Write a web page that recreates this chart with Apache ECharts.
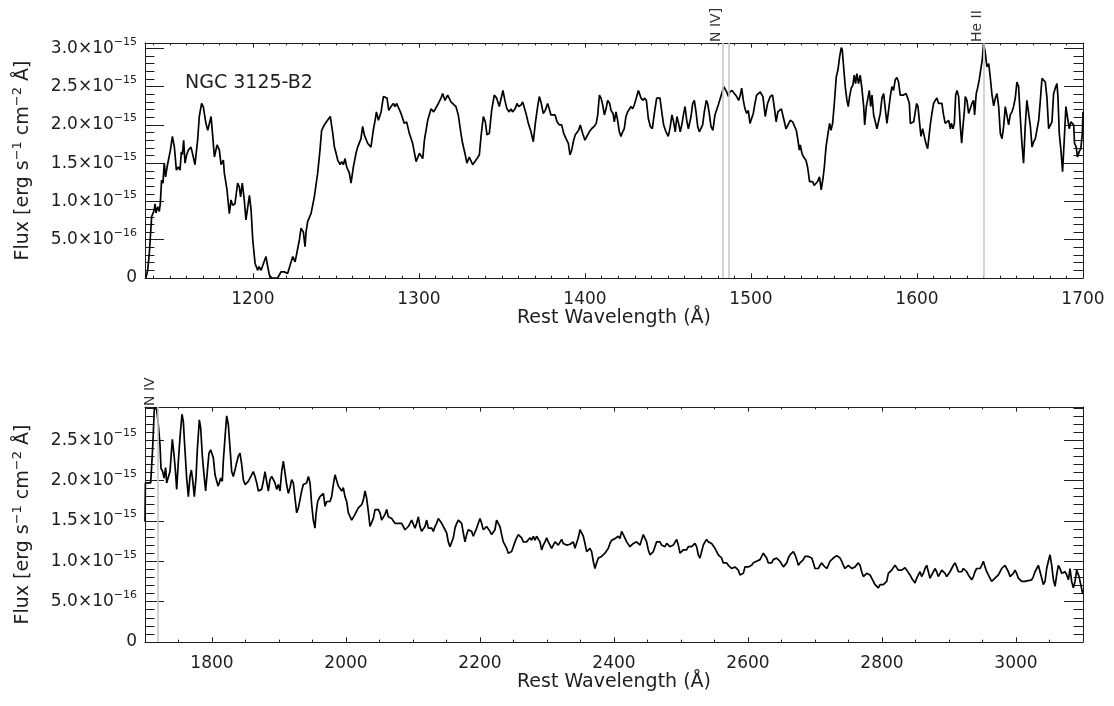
<!DOCTYPE html>
<html>
<head>
<meta charset="utf-8">
<script src="https://cdn.jsdelivr.net/npm/echarts@6/dist/echarts.min.js"></script>
<style>
  html, body { margin: 0; padding: 0; background: #ffffff; }
  #chart { width: 1114px; height: 706px; }
</style>
</head>
<body>
<div id="chart"></div>
<script>
// Rest-frame UV spectrum, flux in units of 1e-15 erg s^-1 cm^-2 Å^-1
const objectName = 'NGC 3125-B2';

// [wavelength (Å), flux] — short-wavelength segment
const spectrumShort = [
  [1135.5,0.00],[1136.6,0.10],[1137.6,0.32],[1139.0,0.80],[1140.6,0.89],[1141.0,0.97],[1141.6,0.85],[1142.6,0.93],
  [1143.6,0.87],[1144.2,0.97],[1145.0,1.28],[1145.8,1.24],[1146.6,1.50],[1147.4,1.32],[1148.3,1.45],[1149.1,1.43],
  [1150.3,1.67],[1151.5,1.85],[1152.7,1.71],[1153.9,1.41],[1155.1,1.45],[1156.1,1.41],[1156.9,1.65],[1157.5,1.61],
  [1158.3,1.80],[1159.1,1.50],[1160.1,1.61],[1161.1,1.67],[1162.7,1.71],[1164.1,1.58],[1165.1,1.48],[1166.7,1.80],
  [1167.7,2.11],[1169.1,2.28],[1170.1,2.24],[1171.7,2.02],[1172.8,1.93],[1174.8,2.11],[1175.8,1.85],[1176.8,1.58],
  [1178.4,1.74],[1179.8,1.67],[1180.8,1.48],[1182.2,1.54],[1182.8,1.37],[1184.4,1.15],[1185.2,0.97],[1185.8,0.84],
  [1186.8,1.02],[1187.8,0.95],[1189.2,0.97],[1190.8,1.24],[1191.8,1.19],[1192.6,1.06],[1193.6,1.24],[1194.8,1.02],
  [1195.8,0.76],[1196.8,0.74],[1197.9,1.08],[1198.9,0.89],[1199.9,0.50],[1201.3,0.19],[1202.9,0.10],[1203.7,0.15],
  [1204.9,0.10],[1206.5,0.20],[1207.9,0.28],[1208.9,0.15],[1209.9,0.04],[1211.3,0.00],[1214.9,0.00],[1216.9,0.08],
  [1218.9,0.08],[1220.9,0.06],[1224.0,0.28],[1225.4,0.21],[1226.4,0.32],[1228.0,0.50],[1229.0,0.65],[1230.4,0.60],
  [1231.4,0.41],[1232.0,0.60],[1233.0,0.74],[1235.0,0.84],[1237.0,1.06],[1239.0,1.37],[1240.4,1.67],[1241.4,1.93],
  [1243.0,2.00],[1244.2,1.98],[1245.6,2.08],[1246.6,2.11],[1248.1,1.89],[1249.1,1.71],[1250.1,1.63],[1251.1,1.54],
  [1252.5,1.48],[1253.5,1.52],[1254.5,1.48],[1255.5,1.56],[1256.5,1.45],[1258.1,1.37],[1259.1,1.24],[1260.5,1.45],
  [1262.1,1.63],[1263.1,1.71],[1265.1,1.82],[1266.1,1.98],[1267.1,1.87],[1269.1,1.76],[1271.1,1.71],[1272.5,1.93],
  [1273.6,2.06],[1274.4,2.17],[1275.6,2.06],[1277.2,2.17],[1278.6,2.37],[1279.6,2.39],[1280.8,2.35],[1281.8,2.19],
  [1283.2,2.24],[1284.6,2.28],[1285.6,2.24],[1286.6,2.28],[1287.6,2.26],[1289.2,2.15],[1291.2,2.02],[1292.6,2.04],
  [1294.2,1.89],[1296.2,1.76],[1298.3,1.52],[1300.3,1.63],[1302.3,1.56],[1303.3,1.80],[1305.3,2.06],[1307.3,2.21],
  [1308.9,2.17],[1311.7,2.28],[1313.3,2.35],[1314.3,2.41],[1315.7,2.32],[1317.3,2.39],[1319.3,2.30],[1322.3,2.24],
  [1323.7,2.13],[1325.3,1.89],[1326.3,1.76],[1327.7,1.63],[1328.9,1.50],[1330.3,1.58],[1331.3,1.56],[1332.4,1.48],
  [1333.4,1.48],[1335.0,1.56],[1336.4,1.61],[1337.4,1.85],[1338.8,2.11],[1340.0,2.04],[1341.0,1.87],[1342.4,1.89],
  [1343.8,2.19],[1345.4,2.39],[1346.8,2.35],[1348.4,2.24],[1349.4,2.22],[1350.6,2.45],[1351.8,2.32],[1353.0,2.21],
  [1354.4,2.17],[1355.4,2.21],[1356.4,2.17],[1357.9,2.21],[1359.1,2.28],[1360.1,2.24],[1361.5,2.26],[1362.5,2.30],
  [1363.5,2.28],[1364.5,2.15],[1365.9,2.02],[1367.5,1.91],[1368.9,1.78],[1370.1,2.02],[1371.5,2.24],[1372.5,2.37],
  [1373.5,2.30],[1374.9,2.15],[1376.1,2.19],[1377.5,2.28],[1378.5,2.21],[1379.5,2.13],[1380.5,2.15],[1382.0,2.13],
  [1383.2,2.04],[1384.6,2.00],[1386.0,2.00],[1387.2,1.89],[1388.6,1.82],[1390.0,1.76],[1391.0,1.61],[1392.0,1.67],
  [1393.2,1.80],[1394.2,1.87],[1395.2,1.85],[1396.2,1.93],[1397.2,2.00],[1398.6,1.89],[1400.0,1.80],[1401.0,1.78],
  [1402.6,1.91],[1404.0,1.95],[1405.6,1.98],[1406.8,2.02],[1407.7,2.13],[1408.7,2.39],[1409.7,2.35],[1410.7,2.26],
  [1411.7,2.13],[1412.7,2.21],[1413.7,2.32],[1414.9,2.28],[1415.7,2.19],[1416.9,2.15],[1417.7,2.04],[1418.7,2.17],
  [1419.7,2.06],[1420.7,1.91],[1421.7,1.85],[1422.7,1.91],[1423.7,1.95],[1424.7,2.11],[1425.7,2.17],[1426.9,2.21],
  [1427.7,2.24],[1428.7,2.21],[1429.7,2.26],[1430.9,2.35],[1432.2,2.45],[1433.0,2.45],[1433.8,2.35],[1435.0,2.32],
  [1435.8,2.35],[1437.0,2.32],[1438.2,2.08],[1439.4,1.98],[1440.6,1.95],[1441.8,2.15],[1443.2,2.35],[1444.2,2.37],
  [1445.2,2.35],[1446.4,2.15],[1447.4,2.00],[1448.8,1.91],[1450.2,1.85],[1451.4,1.98],[1452.4,2.13],[1453.4,2.04],
  [1454.4,1.91],[1455.4,2.11],[1456.4,2.02],[1457.4,1.91],[1458.5,2.02],[1459.3,2.13],[1460.3,2.24],[1461.3,2.06],
  [1462.3,1.95],[1463.1,1.93],[1463.9,2.11],[1464.9,2.28],[1465.9,2.32],[1466.9,2.17],[1467.9,1.98],[1468.9,1.91],
  [1469.9,1.91],[1470.9,2.00],[1471.9,2.17],[1473.1,2.32],[1473.9,2.28],[1474.9,2.15],[1475.9,1.98],[1477.1,1.93],
  [1478.3,2.13],[1479.3,2.13],[1480.3,2.26],[1481.3,2.28],[1482.4,2.41],[1483.6,2.50],[1484.4,2.52],[1485.4,2.43],
  [1486.4,2.37],[1487.2,2.43],[1488.6,2.45],[1490.0,2.41],[1491.4,2.37],[1492.6,2.32],[1493.6,2.39],[1494.4,2.48],
  [1495.4,2.32],[1496.4,2.21],[1497.4,2.15],[1498.4,2.19],[1499.4,2.02],[1500.4,2.00],[1501.4,2.15],[1502.4,2.28],
  [1503.4,2.39],[1504.4,2.41],[1505.6,2.43],[1507.2,2.37],[1508.6,2.11],[1510.0,2.28],[1511.6,2.37],[1513.0,2.39],
  [1514.0,2.24],[1515.2,2.04],[1516.2,2.17],[1517.2,2.19],[1518.3,2.21],[1519.7,2.08],[1521.1,1.95],[1522.3,2.00],
  [1523.7,2.06],[1525.1,2.04],[1526.3,2.04],[1527.3,1.93],[1528.3,1.80],[1529.1,1.67],[1529.7,1.74],[1530.7,1.63],
  [1531.7,1.58],[1533.1,1.54],[1534.1,1.45],[1535.3,1.26],[1536.1,1.24],[1537.1,1.26],[1538.1,1.21],[1539.1,1.19],
  [1540.1,1.26],[1541.3,1.32],[1542.3,1.15],[1543.4,1.30],[1544.2,1.45],[1545.2,1.71],[1546.4,1.89],[1547.4,2.02],
  [1548.2,1.93],[1549.2,2.02],[1550.2,2.28],[1551.4,2.63],[1552.4,2.72],[1553.4,2.89],[1554.4,3.01],[1555.0,2.98],
  [1555.8,2.76],[1556.8,2.50],[1557.8,2.32],[1558.6,2.24],[1559.4,2.37],[1560.4,2.48],[1561.4,2.52],[1562.2,2.65],
  [1563.0,2.54],[1563.8,2.67],[1564.8,2.54],[1565.8,2.65],[1566.8,2.48],[1567.9,2.24],[1568.5,2.00],[1569.5,2.24],
  [1570.5,2.24],[1571.3,2.45],[1572.1,2.24],[1572.9,2.39],[1573.9,2.13],[1574.9,2.04],[1575.9,1.95],[1576.9,1.95],
  [1577.9,2.15],[1578.9,2.35],[1579.9,2.41],[1580.9,2.21],[1581.9,2.02],[1582.9,2.19],[1583.9,2.37],[1584.9,2.50],
  [1585.9,2.45],[1586.9,2.59],[1587.9,2.62],[1588.9,2.56],[1589.9,2.39],[1590.9,2.37],[1591.9,2.39],[1593.4,2.41],
  [1594.4,2.35],[1595.4,2.28],[1596.0,2.02],[1597.0,2.04],[1598.0,2.04],[1599.0,2.02],[1599.8,2.28],[1600.6,2.24],
  [1601.6,2.02],[1602.4,1.85],[1603.4,1.95],[1604.4,1.85],[1605.6,1.74],[1606.4,1.69],[1607.0,1.80],[1608.0,2.00],
  [1609.0,2.15],[1610.0,2.28],[1611.0,2.32],[1612.0,2.35],[1613.0,2.28],[1614.0,2.30],[1615.0,2.28],[1616.0,2.13],
  [1617.0,2.02],[1618.1,2.00],[1619.1,2.06],[1620.1,1.95],[1620.7,2.02],[1621.7,1.95],[1622.5,2.02],[1623.3,2.39],
  [1624.1,2.45],[1625.1,2.37],[1626.1,1.98],[1626.9,1.76],[1627.7,1.98],[1628.5,2.17],[1629.1,2.37],[1630.1,2.32],
  [1631.1,2.15],[1632.1,2.17],[1633.1,2.28],[1634.1,2.32],[1634.7,2.13],[1635.7,2.41],[1636.5,2.48],[1637.5,2.59],
  [1638.5,2.59],[1639.3,2.85],[1640.1,3.06],[1641.1,2.95],[1642.1,2.76],[1643.2,2.80],[1644.2,2.61],[1645.2,2.39],
  [1646.2,2.25],[1647.2,2.35],[1648.2,2.41],[1649.2,2.24],[1650.2,1.89],[1651.2,1.82],[1652.2,1.98],[1653.2,2.24],
  [1654.2,2.22],[1655.2,2.00],[1656.2,2.13],[1657.2,2.17],[1658.2,2.24],[1659.2,2.35],[1660.2,2.56],[1661.2,2.50],
  [1662.2,2.11],[1663.2,1.76],[1664.2,1.50],[1665.2,1.98],[1666.2,2.32],[1667.2,2.32],[1668.3,1.98],[1669.3,1.71],
  [1670.3,1.78],[1671.3,1.82],[1672.3,1.82],[1673.3,2.06],[1674.3,2.32],[1675.3,2.61],[1676.3,2.59],[1677.3,2.56],
  [1678.3,2.35],[1679.3,1.95],[1680.3,1.97],[1681.3,2.04],[1682.3,2.41],[1683.3,2.48],[1684.3,2.54],[1684.9,2.37],
  [1685.7,1.89],[1686.7,1.67],[1687.7,1.39],[1688.7,1.80],[1689.7,2.24],[1690.7,2.26],[1691.7,1.95],[1692.7,2.04],
  [1693.7,2.04],[1694.4,2.00],[1694.9,1.76],[1695.9,1.71],[1696.7,1.58],[1697.7,1.65],[1698.7,1.69],[1699.6,1.89],
  [1700.0,2.17]
];

// [wavelength (Å), flux] — long-wavelength segment
const spectrumLong = [
  [1700.0,1.49],[1700.6,1.97],[1703.0,1.97],[1708.5,1.97],[1711.4,2.40],[1714.0,2.90],[1715.5,2.89],[1717.4,2.88],
  [1719.9,2.69],[1722.4,2.44],[1723.9,2.15],[1726.4,2.11],[1728.4,2.03],[1730.8,2.16],[1732.3,1.97],[1734.8,1.97],
  [1737.3,2.11],[1740.8,2.51],[1743.3,2.32],[1745.3,2.13],[1747.3,1.89],[1749.8,2.24],[1752.2,2.53],[1755.2,2.82],
  [1757.2,2.73],[1759.2,2.44],[1762.2,2.03],[1764.7,1.80],[1767.2,2.05],[1769.2,2.13],[1771.1,2.01],[1773.6,1.80],
  [1776.1,2.03],[1778.1,2.38],[1781.1,2.75],[1783.1,2.65],[1785.6,2.30],[1788.1,2.07],[1790.5,1.87],[1793.0,2.11],
  [1795.5,2.34],[1798.0,2.38],[1800.0,2.36],[1802.0,2.28],[1804.5,2.07],[1807.0,2.05],[1809.0,1.93],[1810.9,1.97],
  [1812.9,2.03],[1815.4,1.99],[1816.9,2.24],[1819.4,2.53],[1821.9,2.80],[1824.4,2.69],[1826.9,2.40],[1829.4,2.11],
  [1831.8,2.05],[1834.3,2.13],[1836.8,2.22],[1839.3,2.30],[1841.8,2.34],[1844.3,2.20],[1846.8,2.01],[1849.3,1.95],
  [1851.7,1.97],[1854.2,1.99],[1856.7,1.97],[1859.2,2.07],[1861.7,2.11],[1864.2,2.05],[1866.7,1.97],[1869.2,1.87],
  [1871.6,1.89],[1874.1,1.89],[1876.6,1.99],[1879.1,2.11],[1881.6,1.99],[1884.1,1.87],[1886.6,2.01],[1889.1,2.05],
  [1891.5,2.03],[1894.0,1.97],[1896.5,1.89],[1899.0,1.95],[1901.5,1.87],[1904.0,2.11],[1906.5,2.24],[1909.0,2.09],
  [1911.4,1.95],[1913.9,1.84],[1916.4,1.91],[1918.9,2.01],[1921.4,1.97],[1923.9,1.78],[1926.4,1.60],[1928.9,1.66],
  [1931.3,1.76],[1933.8,1.87],[1936.3,1.95],[1938.8,1.97],[1941.3,1.97],[1943.8,2.05],[1946.3,1.97],[1948.8,1.70],
  [1951.2,1.51],[1953.7,1.41],[1955.2,1.58],[1957.7,1.74],[1961.2,1.80],[1963.7,1.82],[1966.2,1.84],[1968.7,1.68],
  [1971.1,1.74],[1973.6,1.72],[1976.1,1.74],[1978.6,1.80],[1981.1,1.95],[1983.6,2.07],[1986.1,2.05],[1988.6,1.93],
  [1991.0,1.91],[1993.5,1.87],[1996.0,1.91],[1998.5,1.80],[2001.0,1.74],[2003.5,1.60],[2006.0,1.62],[2008.5,1.51],
  [2010.9,1.53],[2013.4,1.58],[2015.9,1.62],[2018.4,1.66],[2020.9,1.64],[2023.4,1.70],[2025.9,1.76],[2028.4,1.87],
  [2030.8,1.78],[2033.3,1.62],[2035.8,1.43],[2038.3,1.41],[2040.8,1.53],[2043.3,1.64],[2045.8,1.64],[2048.3,1.64],
  [2050.7,1.60],[2053.2,1.51],[2055.7,1.49],[2058.2,1.58],[2060.7,1.64],[2063.2,1.55],[2065.7,1.53],[2068.2,1.53],
  [2070.6,1.51],[2073.1,1.47],[2075.6,1.45],[2078.1,1.47],[2080.6,1.47],[2083.1,1.47],[2085.6,1.49],[2088.1,1.39],
  [2090.5,1.37],[2093.0,1.43],[2095.5,1.41],[2098.0,1.51],[2100.5,1.53],[2103.0,1.41],[2105.5,1.47],[2108.0,1.55],
  [2110.4,1.43],[2112.9,1.37],[2115.4,1.37],[2117.9,1.43],[2120.4,1.51],[2122.9,1.41],[2125.4,1.43],[2127.9,1.41],
  [2130.3,1.37],[2132.8,1.43],[2135.3,1.47],[2137.8,1.53],[2140.3,1.51],[2142.8,1.47],[2145.3,1.47],[2147.8,1.39],
  [2150.2,1.35],[2152.7,1.24],[2155.2,1.18],[2157.7,1.16],[2160.2,1.29],[2162.7,1.41],[2165.2,1.47],[2167.7,1.51],
  [2170.1,1.51],[2172.6,1.47],[2175.1,1.35],[2177.6,1.24],[2180.1,1.33],[2182.5,1.39],[2185.0,1.41],[2187.5,1.37],
  [2190.0,1.31],[2192.5,1.31],[2195.0,1.41],[2197.5,1.47],[2200.0,1.53],[2202.4,1.47],[2204.9,1.39],[2207.4,1.41],
  [2209.9,1.43],[2212.4,1.41],[2214.9,1.37],[2217.4,1.33],[2219.9,1.31],[2222.3,1.39],[2224.8,1.51],[2227.3,1.53],
  [2229.8,1.43],[2232.3,1.33],[2234.8,1.24],[2237.3,1.22],[2239.8,1.16],[2242.2,1.10],[2244.7,1.09],[2247.2,1.12],
  [2249.7,1.18],[2252.2,1.24],[2254.7,1.29],[2257.2,1.33],[2259.7,1.31],[2262.1,1.29],[2264.6,1.24],[2267.1,1.26],
  [2269.6,1.24],[2272.1,1.22],[2274.6,1.29],[2277.1,1.26],[2279.6,1.31],[2282.0,1.26],[2284.5,1.31],[2287.0,1.33],
  [2289.5,1.24],[2292.0,1.14],[2294.5,1.20],[2297.0,1.24],[2299.5,1.29],[2301.9,1.24],[2304.4,1.22],[2306.9,1.16],
  [2309.4,1.20],[2311.9,1.24],[2314.4,1.22],[2316.9,1.20],[2319.4,1.20],[2321.8,1.27],[2324.3,1.22],[2326.8,1.22],
  [2329.3,1.20],[2331.8,1.21],[2334.3,1.21],[2336.8,1.22],[2339.3,1.24],[2341.7,1.16],[2344.2,1.18],[2346.7,1.29],
  [2349.2,1.39],[2351.7,1.37],[2354.2,1.31],[2356.7,1.22],[2359.2,1.12],[2361.6,1.10],[2364.1,1.16],[2366.6,1.12],
  [2369.1,1.00],[2371.6,0.91],[2374.1,0.98],[2376.6,1.04],[2379.1,1.02],[2381.5,1.06],[2384.0,1.08],[2386.5,1.10],
  [2389.0,1.12],[2391.5,1.16],[2394.0,1.22],[2396.5,1.26],[2399.0,1.26],[2401.4,1.28],[2403.9,1.28],[2406.4,1.31],
  [2408.9,1.28],[2411.4,1.37],[2413.9,1.33],[2416.4,1.33],[2418.9,1.24],[2421.3,1.22],[2423.8,1.18],[2426.3,1.20],
  [2428.8,1.22],[2431.3,1.22],[2433.8,1.24],[2436.3,1.26],[2438.8,1.20],[2441.2,1.22],[2443.7,1.33],[2446.2,1.35],
  [2448.7,1.24],[2451.2,1.14],[2453.7,1.08],[2456.2,1.10],[2458.7,1.12],[2461.1,1.18],[2463.6,1.24],[2466.1,1.26],
  [2468.6,1.24],[2471.1,1.20],[2473.6,1.22],[2476.1,1.18],[2478.6,1.22],[2481.0,1.20],[2483.5,1.18],[2486.0,1.20],
  [2488.5,1.20],[2491.0,1.22],[2493.5,1.27],[2496.0,1.20],[2498.5,1.10],[2500.9,1.12],[2503.4,1.14],[2505.9,1.16],
  [2508.4,1.14],[2510.9,1.18],[2513.4,1.16],[2515.9,1.18],[2518.4,1.20],[2520.8,1.22],[2523.3,1.18],[2525.8,1.08],
  [2528.3,1.04],[2530.8,1.12],[2533.3,1.20],[2535.8,1.24],[2538.3,1.27],[2540.7,1.24],[2543.2,1.22],[2545.7,1.22],
  [2548.2,1.22],[2550.7,1.16],[2553.2,1.12],[2555.7,1.08],[2558.2,1.08],[2560.6,1.04],[2563.1,0.98],[2565.6,1.00],
  [2568.1,0.98],[2570.6,0.95],[2573.1,0.93],[2575.6,0.91],[2578.1,0.91],[2580.5,0.93],[2583.0,0.95],[2585.5,0.89],
  [2588.0,0.83],[2590.5,0.81],[2593.0,0.85],[2595.5,0.93],[2598.0,0.95],[2600.4,0.93],[2602.9,0.93],[2605.4,0.95],
  [2607.9,0.98],[2610.4,1.00],[2612.9,1.00],[2615.4,1.00],[2617.9,1.02],[2620.3,1.04],[2622.8,1.10],[2625.3,1.12],
  [2627.8,1.04],[2630.3,0.98],[2632.8,1.00],[2635.3,0.98],[2637.8,1.02],[2640.2,1.02],[2642.7,1.04],[2645.2,1.04],
  [2647.7,1.00],[2650.3,1.00],[2652.8,0.93],[2655.3,0.93],[2657.8,0.98],[2660.2,1.04],[2662.7,1.08],[2665.2,1.10],
  [2667.7,1.12],[2670.2,1.08],[2672.7,1.02],[2675.2,0.95],[2677.7,0.98],[2680.1,1.00],[2682.6,1.02],[2685.1,1.06],
  [2687.6,1.08],[2690.1,1.06],[2692.6,1.06],[2695.1,1.04],[2697.6,0.98],[2700.0,0.91],[2702.5,0.93],[2705.0,0.91],
  [2707.5,0.95],[2710.0,0.98],[2712.5,0.95],[2715.0,0.93],[2717.5,0.91],[2719.9,0.95],[2722.4,1.00],[2724.9,1.02],
  [2727.4,1.04],[2729.9,1.05],[2732.4,1.07],[2734.9,1.08],[2737.4,1.04],[2739.8,1.00],[2742.3,0.95],[2744.8,0.91],
  [2747.3,0.93],[2749.8,0.95],[2752.3,0.93],[2754.8,0.91],[2757.3,0.89],[2759.7,0.93],[2762.2,0.95],[2764.7,0.98],
  [2767.2,0.95],[2769.7,0.87],[2772.2,0.81],[2774.7,0.83],[2777.2,0.85],[2779.6,0.87],[2782.1,0.83],[2784.6,0.79],
  [2787.1,0.75],[2789.6,0.71],[2792.1,0.69],[2794.6,0.67],[2797.1,0.71],[2799.5,0.73],[2802.0,0.71],[2804.5,0.73],
  [2807.0,0.75],[2809.5,0.85],[2812.0,0.83],[2814.5,0.89],[2817.0,0.91],[2819.4,0.95],[2821.9,0.93],[2824.4,0.89],
  [2826.9,0.91],[2829.4,0.89],[2831.9,0.91],[2834.4,0.92],[2836.9,0.89],[2839.3,0.87],[2841.8,0.83],[2844.3,0.79],
  [2846.8,0.77],[2849.3,0.73],[2851.8,0.79],[2854.3,0.83],[2856.8,0.87],[2859.2,0.81],[2861.7,0.85],[2864.2,0.91],
  [2866.7,0.95],[2869.2,0.87],[2871.7,0.79],[2874.2,0.81],[2876.7,0.87],[2879.1,0.91],[2881.6,0.87],[2884.1,0.81],
  [2886.6,0.83],[2889.1,0.89],[2891.6,0.91],[2894.1,0.85],[2896.6,0.81],[2899.0,0.83],[2901.5,0.87],[2904.0,0.91],
  [2906.5,0.95],[2909.0,0.98],[2911.5,0.93],[2914.0,0.87],[2916.5,0.89],[2918.9,0.87],[2921.4,0.91],[2923.9,0.89],
  [2926.4,0.87],[2928.9,0.83],[2931.4,0.81],[2933.9,0.77],[2936.4,0.81],[2938.8,0.87],[2941.3,0.91],[2943.8,0.93],
  [2946.3,0.91],[2948.8,0.95],[2951.3,1.00],[2953.8,0.93],[2956.3,0.87],[2958.7,0.83],[2961.2,0.79],[2963.7,0.75],
  [2966.2,0.77],[2968.7,0.79],[2971.2,0.81],[2973.7,0.83],[2976.2,0.87],[2978.6,0.91],[2981.1,0.93],[2983.6,0.95],
  [2986.1,0.93],[2988.6,0.87],[2991.1,0.81],[2993.6,0.79],[2996.1,0.85],[2998.5,0.89],[3001.0,0.85],[3003.5,0.79],
  [3006.0,0.77],[3008.5,0.75],[3011.0,0.74],[3013.5,0.75],[3016.0,0.77],[3018.4,0.76],[3020.9,0.75],[3023.4,0.77],
  [3025.9,0.81],[3028.4,0.87],[3030.9,0.91],[3033.4,0.95],[3035.9,0.87],[3038.4,0.79],[3040.8,0.71],[3043.3,0.75],
  [3045.8,0.91],[3048.3,1.00],[3050.8,1.08],[3053.3,0.95],[3055.8,0.77],[3058.3,0.69],[3060.7,0.83],[3063.2,0.95],
  [3065.7,0.91],[3068.2,0.85],[3070.7,0.83],[3073.2,0.87],[3075.7,0.83],[3078.2,0.77],[3080.6,0.91],[3083.1,0.75],
  [3085.6,0.67],[3088.1,0.75],[3090.6,0.89],[3092.1,0.91],[3094.1,0.81],[3096.7,0.71],[3099.5,0.60]
];

// Panel ranges and tick spacing
const waveRangeShort = [1135, 1700];
const waveRangeLong = [1700, 3100];
const fluxMaxShort = 3.07;
const fluxMaxLong = 2.91;
const waveMajorShort = 100, waveMinorShort = 10;
const waveMajorLong = 200, waveMinorLong = 50;
const fluxMajor = 0.5, fluxMinor = 0.1;

// Marked emission/absorption lines
const linesShort = [
  { label: 'N IV]', waves: [1483.3, 1486.5] },
  { label: 'He II', waves: [1640.4] }
];
const linesLong = [
  { label: 'N IV', waves: [1718.5] }
];

const FONT = 'DejaVu Sans';
const INK = '#1e1e1e';
const LINE_GRAY = '#c8c8c8';

const chart = echarts.init(document.getElementById('chart'), null, { renderer: 'canvas' });

function nearMultiple(v, step) {
  const k = v / step;
  return Math.abs(k - Math.round(k)) < 1e-6;
}

function fluxLabel(v) {
  if (!nearMultiple(v, fluxMajor)) return '';
  if (Math.abs(v) < 1e-9) return '{z|0}';
  let exp = 15, mant = v;
  if (v < 1) { exp = 16; mant = v * 10; }
  return '{m|' + mant.toFixed(1) + '×10}{s|−' + exp + '}';
}

const labelRich = {
  m: { fontSize: 17, fontFamily: FONT, color: INK, lineHeight: 24 },
  s: { fontSize: 11, fontFamily: FONT, color: INK, lineHeight: 12, verticalAlign: 'top' },
  z: { fontSize: 17, fontFamily: FONT, color: INK, lineHeight: 17 }
};

function waveAxes(gridIndex, range, major, minor, tickLen) {
  const base = {
    type: 'value', gridIndex, min: range[0], max: range[1],
    splitLine: { show: false },
    axisLine: { show: true, onZero: false, lineStyle: { color: INK, width: 1 } },
    axisTick: { show: true, inside: true, length: tickLen, lineStyle: { color: INK, width: 1 } },
    axisLabel: { show: false }
  };
  const minorStyle = {
    axisLine: { show: false, onZero: false },
    axisTick: { show: true, inside: true, length: tickLen / 2, lineStyle: { color: INK, width: 1 } }
  };
  return [
    Object.assign({}, base, {
      position: 'bottom', minInterval: major, maxInterval: major,
      axisLabel: {
        show: true, margin: 13, fontSize: 17, fontFamily: FONT, color: INK,
        formatter: v => (nearMultiple(v, major) ? String(Math.round(v)) : '')
      },
      name: 'Rest Wavelength (Å)', nameLocation: 'middle', nameGap: 29,
      nameTextStyle: { fontSize: 19, fontFamily: FONT, color: INK }
    }),
    Object.assign({}, base, minorStyle, { position: 'bottom', minInterval: minor, maxInterval: minor }),
    Object.assign({}, base, { position: 'top', minInterval: major, maxInterval: major }),
    Object.assign({}, base, minorStyle, { position: 'top', minInterval: minor, maxInterval: minor })
  ];
}

function fluxAxes(gridIndex, max) {
  const base = {
    type: 'value', gridIndex, min: 0, max,
    splitLine: { show: false },
    axisLine: { show: true, onZero: false, lineStyle: { color: INK, width: 1 } },
    axisTick: { show: true, inside: true, length: 19, lineStyle: { color: INK, width: 1 } },
    axisLabel: { show: false }
  };
  const minorStyle = {
    axisLine: { show: false, onZero: false },
    axisTick: { show: true, inside: true, length: 9.5, lineStyle: { color: INK, width: 1 } }
  };
  return [
    Object.assign({}, base, {
      position: 'left', interval: fluxMajor,
      axisLabel: { show: true, margin: 8, formatter: fluxLabel, rich: labelRich },
      name: 'Flux [erg s{s|−1} cm{s|−2} Å]', nameLocation: 'middle', nameRotate: 90, nameGap: 110,
      nameTextStyle: {
        fontSize: 19, fontFamily: FONT, color: INK, lineHeight: 24,
        rich: { s: { fontSize: 13, fontFamily: FONT, color: INK, lineHeight: 12, verticalAlign: 'top' } }
      }
    }),
    Object.assign({}, base, minorStyle, { position: 'left', interval: fluxMinor }),
    Object.assign({}, base, { position: 'right', interval: fluxMajor }),
    Object.assign({}, base, minorStyle, { position: 'right', interval: fluxMinor })
  ];
}

function lineMarkers(axisIndex, lines, fluxMax) {
  return {
    type: 'scatter', xAxisIndex: axisIndex, yAxisIndex: axisIndex,
    symbolSize: 0, silent: true, clip: false, z: 1,
    data: lines.map(l => ({ value: [l.waves[0], fluxMax], name: l.label })),
    label: {
      show: true, position: 'top', distance: 1, rotate: 90,
      align: 'left', verticalAlign: 'bottom',
      formatter: p => p.name, fontSize: 14, fontFamily: FONT, color: '#000000'
    },
    markLine: {
      silent: true, symbol: ['none', 'none'], animation: false,
      label: { show: false },
      lineStyle: { color: LINE_GRAY, width: 1.6, type: 'solid' },
      data: lines.flatMap(l => l.waves).map(w => ({ xAxis: w }))
    }
  };
}

function spectrumSeries(axisIndex, data) {
  return {
    type: 'line', xAxisIndex: axisIndex, yAxisIndex: axisIndex,
    data, showSymbol: false, symbol: 'none', clip: true, z: 3,
    lineStyle: { color: '#000000', width: 1.7 }
  };
}

const option = {
  animation: false,
  backgroundColor: '#ffffff',
  title: {
    text: objectName, left: 180, top: 69,
    textStyle: { fontSize: 19, fontWeight: 'normal', fontFamily: FONT, color: INK }
  },
  grid: [
    { left: 145, top: 43, width: 938, height: 235, containLabel: false },
    { left: 145, top: 407, width: 938, height: 235, containLabel: false }
  ],
  xAxis: [
    ...waveAxes(0, waveRangeShort, waveMajorShort, waveMinorShort, 4.7),
    ...waveAxes(1, waveRangeLong, waveMajorLong, waveMinorLong, 4.7)
  ],
  yAxis: [
    ...fluxAxes(0, fluxMaxShort),
    ...fluxAxes(1, fluxMaxLong)
  ],
  series: [
    lineMarkers(0, linesShort, fluxMaxShort),
    spectrumSeries(0, spectrumShort),
    lineMarkers(4, linesLong, fluxMaxLong),
    spectrumSeries(4, spectrumLong)
  ]
};

chart.setOption(option);
</script>
</body>
</html>
